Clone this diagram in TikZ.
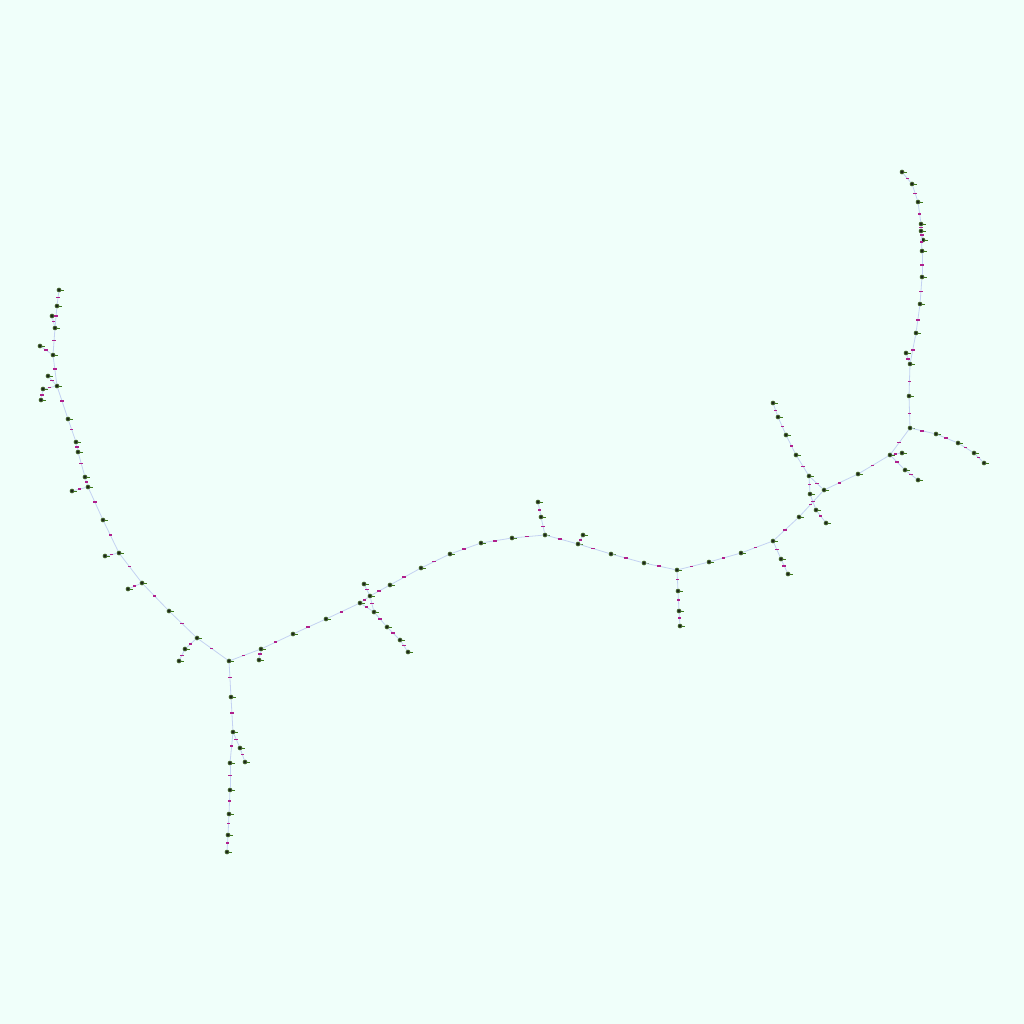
\documentclass[tikz,border=0pt]{standalone}
\usetikzlibrary{positioning}
\definecolor{bgc}{HTML}{F0FFFA}
\definecolor{edgec}{HTML}{C4D2F2}
\definecolor{elabc}{HTML}{B0208C}
\definecolor{dotc}{HTML}{1E2A1A}
\definecolor{ringc}{HTML}{4A6E2E}
\definecolor{tickc}{HTML}{3C7A1A}
\tikzset{
  dot/.style={circle, inner sep=0pt, minimum size=4pt, fill=dotc, draw=ringc, line width=0.6pt,
    append after command={(\tikzlastnode.east) edge[draw=tickc, line width=0.7pt] ++(2.4pt,0)}},
  edge/.style={draw=edgec, line width=0.8pt},
  elab/.style={pos=0.45, inner sep=0pt, minimum width=3.6pt, minimum height=1.6pt, fill=elabc, rectangle}
}
\begin{document}
\begin{tikzpicture}[x=1pt,y=-1pt]
\useasboundingbox (0,0) rectangle (1024,1024);
\fill[bgc] (0,0) rectangle (1024,1024);
\foreach \n/\x/\y in {
 a1/59/290, a2/57/306, a3/52/316, a4/55/328, a5/40/346, a6/53/355, a7/48/376, a8/57/386,
 a9/43/389, a10/41/400, a11/68/419, a12/76/442, a13/78/452, a14/85/477, a15/88/487, a16/72/491,
 a17/103/520, a18/119/553, a19/105/556, a20/142/583, a21/128/589, a22/169/611, a23/197/638,
 a24/185/649, a25/179/661, h/229/661,
 b1/231/697, b2/233/732, b3/240/748, b4/245/762, b5/230/763, b6/230/790, b7/229/814, b8/228/835, b9/227/852,
 c1/261/649, c2/259/660, c3/293/634, c4/326/619, c5/360/603, c6/370/596, c7/364/584, c8/390/585,
 c9/374/612, c10/387/627, c11/400/640, c12/408/652,
 d1/421/568, d2/450/554, d3/481/543, d4/512/538, d5/545/535, d6/541/517, d7/538/502, d8/578/544,
 d9/583/535, d10/611/554, d11/644/563, d12/677/570, d13/678/591, d14/679/611, d15/680/626,
 d16/709/562, d17/741/553, d18/773/541, d19/781/559, d20/788/574,
 e1/799/517, e2/824/490, e3/809/476, e4/810/494, e5/816/510, e6/826/523, e7/796/455, e8/786/435,
 e9/778/417, e10/773/403, e11/858/474, e12/890/455, e13/902/453, e14/905/470, e15/918/480,
 e16/910/428, e17/936/434, e18/958/443, e19/974/453, e20/984/463,
 f1/909/396, f2/910/364, f3/906/353, f4/916/333, f5/920/304, f6/922/277, f7/922/251, f8/921/231,
 f9/923/240, f10/921/224, f11/918/202, f12/912/184, f13/902/172}
 { \node[dot] (\n) at (\x,\y) {}; }
\foreach \u/\v in {
 a1/a2, a2/a4, a3/a4, a4/a6, a5/a6, a6/a8, a7/a8, a9/a8, a10/a9, a8/a11, a11/a12, a12/a13,
 a13/a14, a14/a15, a16/a15, a15/a17, a17/a18, a19/a18, a18/a20, a21/a20, a20/a22, a22/a23,
 a24/a23, a25/a24, a23/h,
 h/b1, b1/b2, b2/b3, b3/b4, b2/b5, b5/b6, b6/b7, b7/b8, b8/b9,
 h/c1, c1/c2, c1/c3, c3/c4, c4/c5, c5/c6, c6/c8, c7/c6, c6/c9, c5/c9, c9/c10, c10/c11, c11/c12,
 c8/d1, d1/d2, d2/d3, d3/d4, d4/d5, d5/d6, d6/d7, d5/d8, d8/d9, d8/d10, d10/d11, d11/d12,
 d12/d13, d13/d14, d14/d15, d12/d16, d16/d17, d17/d18, d18/d19, d19/d20,
 d18/e1, e1/e2, e2/e3, e3/e4, e4/e5, e5/e6, e3/e7, e7/e8, e8/e9, e9/e10, e2/e11, e11/e12,
 e12/e13, e12/e14, e14/e15, e12/e16, e16/e17, e17/e18, e18/e19, e19/e20,
 e16/f1, f1/f2, f2/f3, f2/f4, f4/f5, f5/f6, f6/f7, f7/f8, f8/f9, f8/f10, f10/f11, f11/f12, f12/f13}
 { \draw[edge] (\u) -- (\v) node[elab] {}; }
\end{tikzpicture}
\end{document}
